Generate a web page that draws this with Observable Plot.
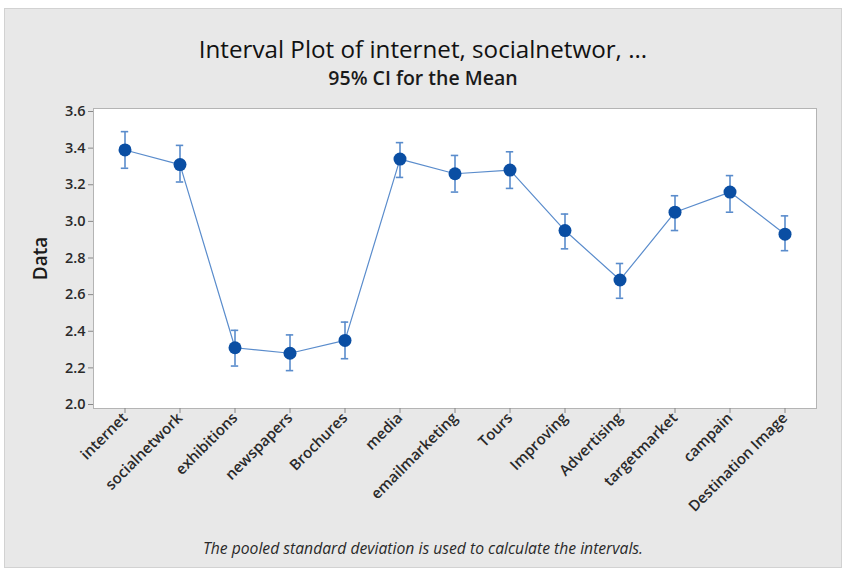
<!DOCTYPE html>
<html><head><meta charset="utf-8">
<script src="https://cdn.jsdelivr.net/npm/d3@7"></script>
<script src="https://cdn.jsdelivr.net/npm/@observablehq/plot@0.6"></script>
<style>
body{margin:0;background:#fff;font-family:"Open Sans",sans-serif;width:846px;height:569px;position:relative;overflow:hidden;}
#bg{position:absolute;left:4px;top:8px;width:836px;height:558px;background:#e8e8e8;border:1px solid #d2d2d2;}
#title{position:absolute;left:0;top:37px;width:846px;text-align:center;font-size:24.2px;line-height:1;color:#111;}
#subtitle{position:absolute;left:0;top:68px;width:846px;text-align:center;font-size:19.5px;font-weight:600;line-height:1;color:#1a1a1a;}
#chart{position:absolute;left:0;top:90px;}
#note{position:absolute;left:0;top:541px;width:846px;text-align:center;font-size:15.7px;font-style:italic;color:#2a2a2a;line-height:1;}
#chart svg text{font-weight:600;}
</style>
</head><body>
<div id="bg"></div>
<div id="title">Interval Plot of internet, socialnetwor, ...</div>
<div id="subtitle">95% CI for the Mean</div>
<div id="chart"></div>
<div id="note">The pooled standard deviation is used to calculate the intervals.</div>
<script>
const categories = ["internet","socialnetwork","exhibitions","newspapers","Brochures","media","emailmarketing","Tours","Improving","Advertising","targetmarket","campain","Destination Image"];
const means = [3.39,3.31,2.31,2.28,2.35,3.34,3.26,3.28,2.95,2.68,3.05,3.16,2.93];
const lower = [3.29,3.215,2.21,2.185,2.25,3.24,3.16,3.18,2.85,2.58,2.95,3.05,2.84];
const upper = [3.49,3.415,2.405,2.38,2.45,3.43,3.36,3.38,3.04,2.77,3.14,3.25,3.03];
const yTicks = [2.0,2.2,2.4,2.6,2.8,3.0,3.2,3.4,3.6];
const yLabel = ["Data"];

const data = categories.map((c,i)=>({cat:c, mean:means[i], lo:lower[i], hi:upper[i]}));
const lineColor = "#5a8ccc";
const plot = Plot.plot({
  width: 846,
  height: 470,
  marginTop: 18,
  marginBottom: 152,
  marginLeft: 93,
  marginRight: 30,
  style: {background:"transparent", fontFamily:"'Open Sans', sans-serif", overflow:"visible", color:"#2a2a2a"},
  x: {type:"band", domain: categories, padding: 0},
  y: {domain:[2.0,3.6], insetTop:3, insetBottom:4},
  marks: [
    Plot.frame({fill:"white", stroke:"#b4b4b4"}),
    Plot.axisY({ticks: yTicks, tickFormat: d=>d.toFixed(1), tickSize:5, tickPadding:3, fontSize:14.5, label:null, stroke:"#888"}),
    Plot.axisX({tickRotate:-45, tickSize:5, tickPadding:2, fontSize:15, label:null, stroke:"#888"}),
    Plot.text(yLabel, {frameAnchor:"left", textAnchor:"middle", dx:-53, rotate:-90, fontSize:19, fill:"#1a1a1a"}),
    Plot.line(data, {x:"cat", y:"mean", stroke:lineColor, strokeWidth:1.2}),
    Plot.ruleX(data, {x:"cat", y1:"lo", y2:"hi", stroke:lineColor, strokeWidth:1.6}),
    Plot.tickY(data, {x:"cat", y:"lo", stroke:lineColor, strokeWidth:1.6, insetLeft:23.8, insetRight:23.8}),
    Plot.tickY(data, {x:"cat", y:"hi", stroke:lineColor, strokeWidth:1.6, insetLeft:23.8, insetRight:23.8}),
    Plot.dot(data, {x:"cat", y:"mean", r:6.5, fill:"#0a4ea3"})
  ]
});
document.getElementById("chart").appendChild(plot);
</script>
</body></html>
